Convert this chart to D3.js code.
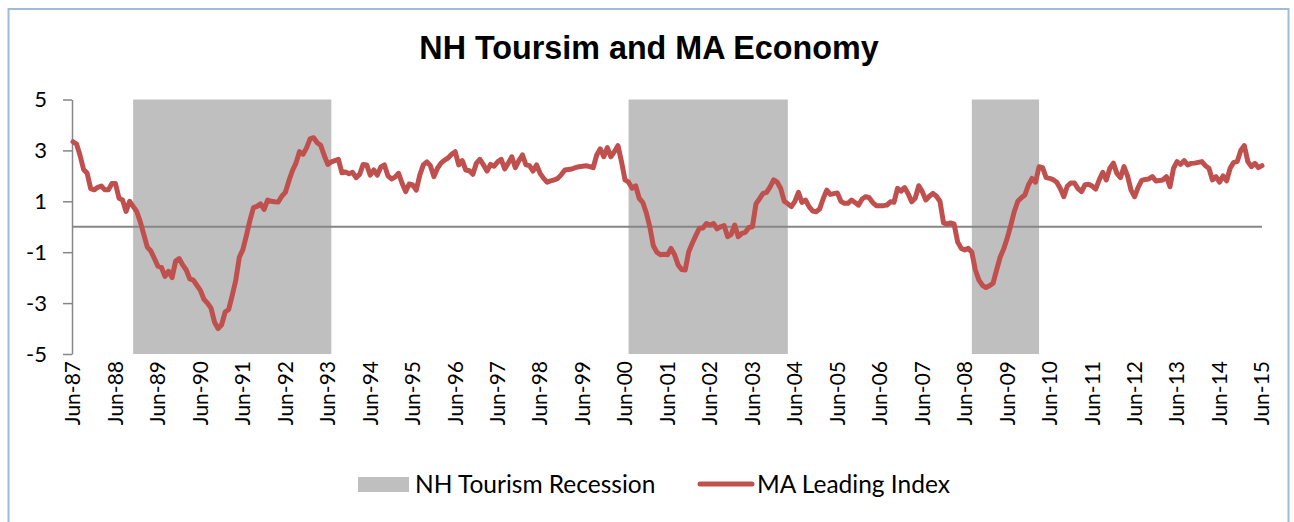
<!DOCTYPE html>
<html>
<head>
<meta charset="utf-8">
<script src="https://cdn.jsdelivr.net/npm/d3@7"></script>
<style>
    body { margin: 0; background: #fff; }
    #chart-area { width: 1294px; height: 522px; }
    .axis-label { font-family: Lato, "Open Sans", sans-serif; fill: #000; }
</style>
</head>
<body>
<div id="chart-area"></div>
<script>

// ---- data ----

// monthly series, Jun-87 .. Jun-15 (one row = Jun..May)
const maLeadingIndex = [
    3.34, 3.25, 2.8, 2.25, 2.1, 1.5, 1.45, 1.55, 1.6, 1.45, 1.45, 1.7,
    1.7, 1.12, 1.05, 0.6, 1.0, 0.8, 0.6, 0.2, -0.3, -0.8, -0.95, -1.25,
    -1.55, -1.6, -1.95, -1.75, -2.0, -1.35, -1.25, -1.5, -1.7, -2.05, -2.1, -2.3,
    -2.5, -2.85, -3.0, -3.2, -3.75, -4.0, -3.85, -3.35, -3.25, -2.7, -2.1, -1.2,
    -0.9, -0.35, 0.25, 0.75, 0.8, 0.9, 0.68, 1.05, 1.0, 0.98, 0.97, 1.2,
    1.35, 1.8, 2.2, 2.5, 2.95, 2.85, 3.1, 3.45, 3.5, 3.3, 3.2, 2.8,
    2.45, 2.55, 2.6, 2.65, 2.12, 2.15, 2.08, 2.14, 1.93, 2.06, 2.45, 2.43,
    2.03, 2.23, 2.03, 2.35, 2.43, 2.0, 1.88, 1.95, 2.1, 1.71, 1.38, 1.68,
    1.64, 1.44, 2.03, 2.43, 2.55, 2.4, 1.97, 2.3, 2.5, 2.62, 2.7, 2.85,
    2.95, 2.43, 2.6, 2.23, 2.2, 2.06, 2.5, 2.65, 2.43, 2.19, 2.45, 2.38,
    2.55, 2.65, 2.27, 2.5, 2.75, 2.32, 2.6, 2.82, 2.43, 2.4, 2.19, 2.43,
    2.1, 1.9, 1.75, 1.8, 1.84, 1.9, 2.05, 2.23, 2.25, 2.27, 2.32, 2.36,
    2.38, 2.4, 2.36, 2.32, 2.82, 3.06, 2.75, 3.11, 2.75, 2.95, 3.19, 2.56,
    1.84, 1.75, 1.51, 1.61, 1.12, 0.96, 0.55, 0.0, -0.75, -1.0, -1.1, -1.08,
    -1.1, -0.85, -1.1, -1.5, -1.68, -1.7, -0.98, -0.65, -0.35, -0.06, -0.05, 0.13,
    0.07, 0.13, -0.08, 0.0, 0.05, -0.39, -0.3, 0.07, -0.39, -0.26, -0.22, -0.03,
    0.0, 0.9, 1.1, 1.31, 1.35, 1.57, 1.84, 1.75, 1.5, 1.0, 0.9, 0.79,
    1.0, 1.35, 0.96, 1.05, 0.79, 0.62, 0.59, 0.7, 1.1, 1.44, 1.27, 1.3,
    1.33, 1.0, 0.92, 0.92, 1.05, 0.95, 0.85, 1.09, 1.18, 1.14, 0.95, 0.83,
    0.83, 0.83, 0.85, 0.98, 0.96, 1.51, 1.4, 1.54, 1.3, 0.98, 1.12, 1.61,
    1.38, 1.05, 1.2, 1.31, 1.2, 1.0, 0.15, 0.1, 0.15, 0.1, -0.6, -0.85,
    -0.91, -0.85, -1.0, -1.7, -2.1, -2.3, -2.39, -2.32, -2.22, -1.7, -1.2, -0.87,
    -0.45, 0.05, 0.6, 1.0, 1.14, 1.25, 1.64, 1.9, 1.75, 2.36, 2.32, 1.93,
    1.9, 1.85, 1.75, 1.5, 1.18, 1.6, 1.72, 1.72, 1.5, 1.38, 1.65, 1.67,
    1.6, 1.48, 1.84, 2.14, 1.84, 2.3, 2.5, 2.1, 1.93, 2.36, 2.0, 1.44,
    1.18, 1.55, 1.82, 1.86, 1.88, 1.97, 1.8, 1.82, 1.84, 1.97, 1.57, 2.3,
    2.56, 2.45, 2.6, 2.43, 2.49, 2.5, 2.53, 2.56, 2.4, 2.3, 1.84, 1.97,
    1.75, 2.0, 1.8, 2.3, 2.53, 2.56, 3.0, 3.19, 2.56, 2.36, 2.49, 2.32,
    2.4
];

// NH tourism recession periods (first and last month)
const recessionStart = ["Nov-88", "Jul-00", "Aug-08"];
const recessionEnd   = ["Jul-93", "Apr-04", "Mar-10"];

// axis ticks
const xTickLabels = ["Jun-87", "Jun-88", "Jun-89", "Jun-90", "Jun-91", "Jun-92", "Jun-93",
    "Jun-94", "Jun-95", "Jun-96", "Jun-97", "Jun-98", "Jun-99", "Jun-00", "Jun-01",
    "Jun-02", "Jun-03", "Jun-04", "Jun-05", "Jun-06", "Jun-07", "Jun-08", "Jun-09",
    "Jun-10", "Jun-11", "Jun-12", "Jun-13", "Jun-14", "Jun-15"];
const yTickValues = [-5, -3, -1, 1, 3, 5];

const seriesNames = ["NH Tourism Recession", "MA Leading Index"];


// month label like "Nov-88" -> months since Jun-87
const MONTHS = ["Jan","Feb","Mar","Apr","May","Jun","Jul","Aug","Sep","Oct","Nov","Dec"];
function monthIndex(label) {
    let parts = label.split("-");
    let yy = +parts[1];
    let year = yy >= 50 ? 1900 + yy : 2000 + yy;
    return (year - 1987) * 12 + MONTHS.indexOf(parts[0]) - 5;
}


class TourismVis {

    constructor(_parentElement, _data) {
        this.parentElement = _parentElement;
        this.data = _data;
        this.initVis();
    }

    initVis() {
        let vis = this;

        vis.width = 1294;
        vis.height = 522;

        vis.svg = d3.select("#" + vis.parentElement).append("svg")
            .attr("width", vis.width)
            .attr("height", vis.height);

        // chart frame
        vis.svg.append("rect")
            .attr("x", 8.5)
            .attr("y", 9)
            .attr("width", 1280)
            .attr("height", 540)
            .attr("fill", "#fff")
            .attr("stroke", "#9fbadb")
            .attr("stroke-width", 2);

        // title
        vis.svg.append("text")
            .attr("x", 649)
            .attr("y", 59)
            .attr("text-anchor", "middle")
            .style("font-family", "'Liberation Sans', Arial, sans-serif")
            .style("font-weight", "bold")
            .style("font-size", "32.3px")
            .text("NH Toursim and MA Economy");

        // scales
        vis.x = d3.scaleLinear()
            .domain([0, vis.data.length - 1])
            .range([73, 1262]);

        vis.y = d3.scaleLinear()
            .domain([-5, 5])
            .range([354, 99.5]);

        vis.plot = vis.svg.append("g");

        vis.wrangleData();
    }

    wrangleData() {
        let vis = this;

        vis.lineData = vis.data.map((d, i) => ({i: i, value: d}));
        vis.recessions = recessionStart.map((s, k) => ({
            start: monthIndex(s),
            end: monthIndex(recessionEnd[k])
        }));

        vis.updateVis();
    }

    updateVis() {
        let vis = this;

        // recession shading
        vis.plot.selectAll(".recession")
            .data(vis.recessions)
            .enter().append("rect")
            .attr("class", "recession")
            .attr("x", d => vis.x(d.start))
            .attr("width", d => vis.x(d.end) - vis.x(d.start))
            .attr("y", vis.y(5))
            .attr("height", vis.y(-5) - vis.y(5))
            .attr("fill", "#bfbfbf");

        // y axis
        let yAxis = d3.axisLeft(vis.y)
            .tickValues(yTickValues)
            .tickSize(9)
            .tickSizeOuter(0)
            .tickPadding(16)
            .tickFormat(d => String(d));

        let yg = vis.plot.append("g")
            .attr("transform", "translate(72,0)")
            .call(yAxis);
        yg.select(".domain").attr("stroke", "#868686").attr("stroke-width", 1.5);
        yg.selectAll(".tick line").attr("stroke", "#868686").attr("stroke-width", 1.5);
        yg.selectAll(".tick text")
            .attr("class", "axis-label")
            .style("font-size", "22px");

        // horizontal axis at zero
        vis.plot.append("line")
            .attr("x1", 72)
            .attr("x2", vis.x(vis.data.length - 1))
            .attr("y1", vis.y(0))
            .attr("y2", vis.y(0))
            .attr("stroke", "#868686")
            .attr("stroke-width", 2);

        // x labels (rotated, hanging under the plot)
        vis.plot.selectAll(".x-label")
            .data(xTickLabels)
            .enter().append("text")
            .attr("class", "x-label axis-label")
            .attr("transform", d => `translate(${vis.x(monthIndex(d))}, 361) rotate(-90)`)
            .attr("text-anchor", "end")
            .attr("dy", "0.35em")
            .style("font-size", "21px")
            .text(d => d);

        // the index line
        let line = d3.line()
            .x(d => vis.x(d.i))
            .y(d => vis.y(d.value));

        vis.plot.append("path")
            .datum(vis.lineData)
            .attr("d", line)
            .attr("fill", "none")
            .attr("stroke", "#c0504d")
            .attr("stroke-width", 5)
            .attr("stroke-linejoin", "round")
            .attr("stroke-linecap", "round");

        // legend
        let legend = vis.svg.append("g");

        legend.append("rect")
            .attr("x", 358)
            .attr("y", 477)
            .attr("width", 51)
            .attr("height", 15)
            .attr("fill", "#bfbfbf");

        legend.append("line")
            .attr("x1", 700)
            .attr("x2", 752)
            .attr("y1", 484)
            .attr("y2", 484)
            .attr("stroke", "#c0504d")
            .attr("stroke-width", 5)
            .attr("stroke-linecap", "round");

        legend.selectAll(".legend-text")
            .data(seriesNames)
            .enter().append("text")
            .attr("class", "legend-text axis-label")
            .attr("x", (d, i) => i === 0 ? 415 : 757)
            .attr("y", 484)
            .attr("dy", "0.35em")
            .style("font-size", "24.5px")
            .text(d => d);
    }
}

new TourismVis("chart-area", maLeadingIndex);

</script>
</body>
</html>
